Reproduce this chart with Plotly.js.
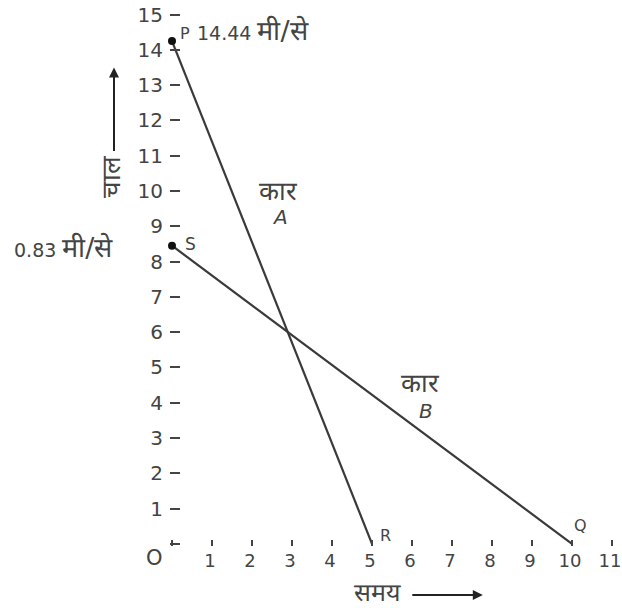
<!DOCTYPE html>
<html>
<head>
<meta charset="utf-8">
<script src="https://cdn.plot.ly/plotly-3.0.1.min.js"></script>
<style>
  html, body { margin: 0; padding: 0; background: #fff; }
  #chart { width: 622px; height: 608px; }
</style>
</head>
<body>
<div id="chart"></div>
<script>
// speed-time graph of two cars
var carA_x = [0, 5];
var carA_y = [14.25, 0];
var carB_x = [0, 10];
var carB_y = [8.45, 0];
var start_x = [0, 0];
var start_y = [14.25, 8.45];

var xTickVals = [0, 1, 2, 3, 4, 5, 6, 7, 8, 9, 10, 11];
var xTickText = ['', '1', '2', '3', '4', '5', '6', '7', '8', '9', '10', '11'];
var yTickVals = [0, 1, 2, 3, 4, 5, 6, 7, 8, 9, 10, 11, 12, 13, 14, 15];
var yTickText = ['', '1', '2', '3', '4', '5', '6', '7', '8', '9', '10', '11', '12', '13', '14', '15'];

var FONT = 'DejaVu Sans, Liberation Sans, sans-serif';
var INK = '#444';
var LINE = '#3a3a3a';
var HI = 'font-size:27px';   // devanagari runs need a bigger size

var traceA = {
  x: carA_x, y: carA_y, type: 'scatter', mode: 'lines',
  line: {color: LINE, width: 2.2}, cliponaxis: false, hoverinfo: 'skip'
};
var traceB = {
  x: carB_x, y: carB_y, type: 'scatter', mode: 'lines',
  line: {color: LINE, width: 2.2}, cliponaxis: false, hoverinfo: 'skip'
};
var dots = {
  x: start_x, y: start_y, type: 'scatter', mode: 'markers',
  marker: {color: '#111', size: 8}, cliponaxis: false, hoverinfo: 'skip'
};

function label(text, x, y, size, extra) {
  var a = {text: text, x: x, y: y, xref: 'x', yref: 'y', showarrow: false,
           xanchor: 'center', yanchor: 'middle',
           font: {family: FONT, size: size, color: INK}};
  for (var k in extra) a[k] = extra[k];
  return a;
}

var annotations = [
  label('P', 0.33, 14.47, 16),
  label('14.44 <span style="' + HI + '">मी/से</span>', 0.575, 14.55, 19, {xanchor: 'left'}),
  label('0.83 <span style="' + HI + '">मी/से</span>', -0.353, 8.40, 19, {xanchor: 'left', xref: 'paper'}),
  label('S', 0.45, 8.51, 17),
  label('कार', 2.65, 10.0, 26),
  label('<i>A</i>', 2.7, 9.27, 20),
  label('कार', 6.2, 4.57, 26),
  label('<i>B</i>', 6.35, 3.76, 20),
  label('R', 5.33, 0.24, 16),
  label('Q', 10.2, 0.52, 16),
  label('O', -0.0335, -0.022, 21, {xref: 'paper', yref: 'paper'}),
  label('समय', 0.464, -0.085, 25, {xref: 'paper', yref: 'paper'}),
  label('चाल', -0.1317, 10.39, 26, {xref: 'paper', textangle: -90}),
  {text: '', x: -0.125, y: 13.5, xref: 'paper', yref: 'y', showarrow: true,
   ax: 0, ay: 85, arrowhead: 2, arrowsize: 1, arrowwidth: 2, arrowcolor: '#222'},
  {text: '', x: 7.77, y: -0.0904, xref: 'x', yref: 'paper', showarrow: true,
   ax: -72, ay: 0, arrowhead: 2, arrowsize: 1, arrowwidth: 2, arrowcolor: '#222'}
];

var layout = {
  width: 622, height: 608,
  margin: {l: 170, r: 4, t: 4, b: 62},
  paper_bgcolor: '#fff', plot_bgcolor: '#fff',
  showlegend: false,
  font: {family: FONT, size: 19, color: INK},
  xaxis: {
    range: [-0.05, 11.15], showgrid: false, zeroline: false, showline: false,
    tickvals: xTickVals, ticktext: xTickText, tickfont: {family: FONT, size: 18, color: INK},
    ticks: 'inside', ticklen: 6, tickwidth: 2, tickcolor: INK,
    ticklabelstandoff: 2, ticklabelshift: -2, ticklabeloverflow: 'allow', fixedrange: true
  },
  yaxis: {
    range: [-0.06, 15.3], showgrid: false, zeroline: false, showline: false,
    tickvals: yTickVals, ticktext: yTickText, tickfont: {family: FONT, size: 20, color: INK},
    ticks: 'inside', ticklen: 10, tickwidth: 2, tickcolor: INK,
    ticklabelstandoff: 6, fixedrange: true
  },
  annotations: annotations
};

Plotly.newPlot('chart', [traceA, traceB, dots], layout, {displayModeBar: false, staticPlot: true});
</script>
</body>
</html>
